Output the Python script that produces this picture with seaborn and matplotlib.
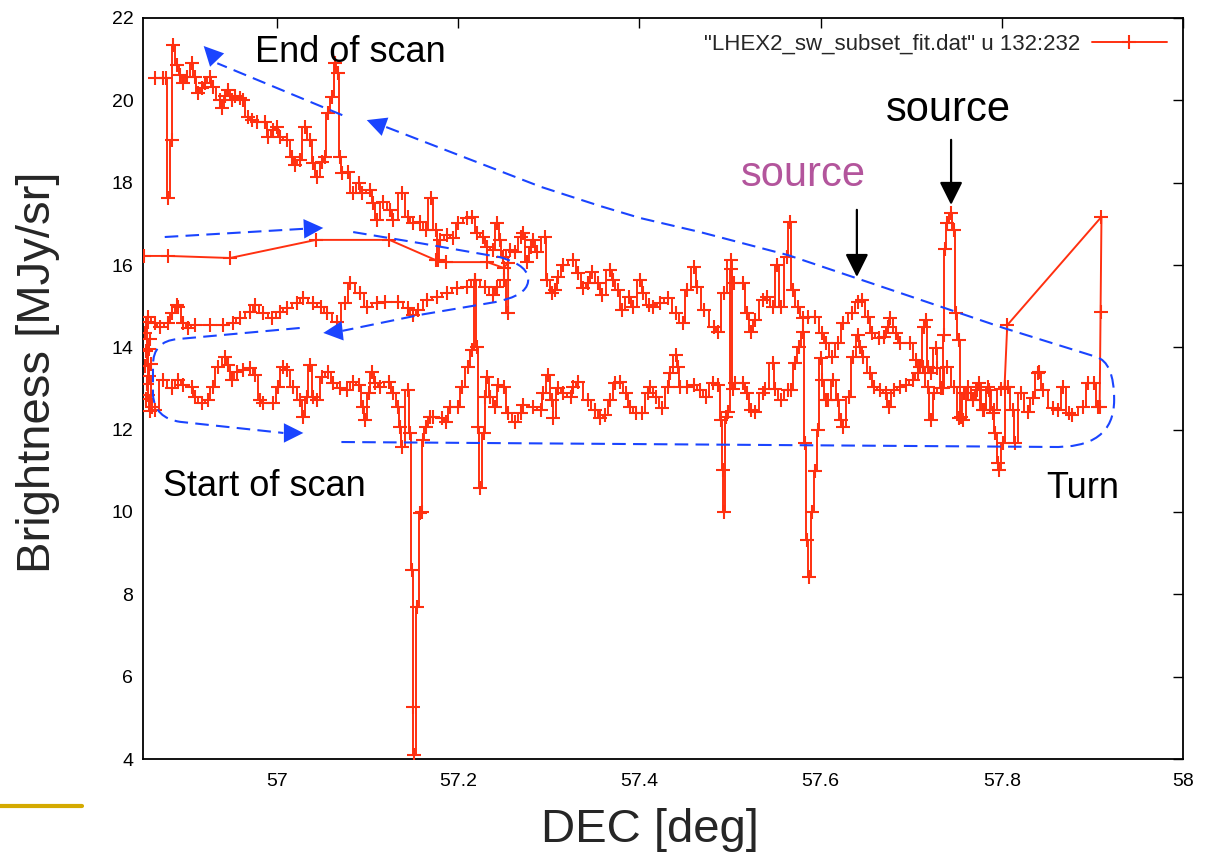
import numpy as np
import pandas as pd
import matplotlib
matplotlib.use("Agg")
import matplotlib.pyplot as plt
import seaborn as sns
from matplotlib import font_manager
from matplotlib.path import Path
from matplotlib.patches import PathPatch, FancyArrowPatch
from matplotlib.lines import Line2D

# ---------------------------------------------------------------------------
# Scan data: (DEC [deg], brightness [MJy/sr]) in the order the scan ran
# ---------------------------------------------------------------------------
# outbound slew along the top
LEG_A = [(56.853, 16.22), (56.880, 16.22), (56.948, 16.17), (57.043, 16.61),
         (57.124, 16.61), (57.175, 16.12), (57.186, 16.07), (57.232, 16.07),
         (57.250, 15.93), (57.255, 16.05)]

# first return leg (middle band), right to left
LEG_B = [(57.255, 14.83), (57.250, 15.64), (57.243, 15.47), (57.238, 15.27),
         (57.230, 15.47), (57.219, 15.64), (57.210, 15.47), (57.199, 15.44),
         (57.188, 15.32), (57.177, 15.22), (57.166, 15.15), (57.156, 14.90),
         (57.150, 14.79), (57.144, 14.96), (57.133, 15.10), (57.119, 15.10),
         (57.110, 15.08), (57.099, 14.98), (57.092, 15.32), (57.081, 15.56),
         (57.075, 15.08), (57.066, 14.62), (57.055, 14.83), (57.048, 14.98),
         (57.040, 15.08), (57.029, 15.20), (57.022, 15.08), (57.011, 14.96),
         (57.003, 14.86), (56.994, 14.71), (56.985, 14.83), (56.976, 15.03),
         (56.970, 14.86), (56.959, 14.71), (56.951, 14.59), (56.940, 14.54),
         (56.926, 14.54), (56.909, 14.54), (56.902, 14.47), (56.896, 14.59),
         (56.891, 14.98), (56.890, 15.03), (56.884, 14.83), (56.880, 14.59),
         (56.871, 14.50), (56.865, 14.59), (56.857, 14.74)]

# turnaround at the low-DEC end
LEFT_TURN = [(56.854, 14.35), (56.858, 14.62), (56.855, 13.90), (56.860, 14.20),
             (56.854, 13.55), (56.859, 13.95), (56.856, 13.10), (56.861, 13.60),
             (56.855, 12.75), (56.859, 13.30), (56.862, 12.55), (56.857, 12.85),
             (56.860, 12.45)]

# main outbound leg (lower band), left to right
LEG_C = [(56.865, 12.48), (56.874, 13.21), (56.884, 13.01), (56.891, 13.21),
         (56.896, 13.09), (56.906, 13.04), (56.909, 12.79), (56.917, 12.65),
         (56.924, 12.72), (56.929, 13.04), (56.935, 13.52), (56.943, 13.77),
         (56.946, 13.57), (56.950, 13.21), (56.956, 13.40), (56.962, 13.45),
         (56.970, 13.50), (56.976, 13.33), (56.981, 12.72), (56.985, 12.65),
         (56.996, 12.65), (57.001, 13.04), (57.006, 13.52), (57.011, 13.45),
         (57.018, 13.04), (57.025, 12.72), (57.029, 12.31), (57.033, 12.79),
         (57.036, 13.57), (57.040, 12.79), (57.044, 12.72), (57.050, 13.28),
         (57.056, 13.40), (57.062, 13.13), (57.070, 13.01), (57.077, 12.96),
         (57.084, 13.16), (57.090, 13.09), (57.095, 12.55), (57.097, 12.23),
         (57.101, 12.90), (57.105, 13.40), (57.108, 13.13), (57.114, 13.04),
         (57.123, 13.16), (57.128, 12.90), (57.134, 12.55), (57.136, 12.07),
         (57.138, 11.58), (57.145, 12.96), (57.147, 11.92), (57.149, 8.59),
         (57.150, 5.27), (57.151, 4.10), (57.155, 7.69), (57.158, 9.98),
         (57.160, 10.00), (57.161, 11.75), (57.164, 12.07), (57.169, 12.31),
         (57.172, 12.31), (57.182, 12.28), (57.186, 12.19), (57.191, 12.55),
         (57.200, 12.55), (57.204, 13.04), (57.211, 13.52), (57.215, 13.94),
         (57.219, 15.64), (57.221, 14.01), (57.222, 12.07), (57.224, 10.58),
         (57.228, 11.92), (57.230, 12.79), (57.232, 13.28), (57.235, 12.79),
         (57.241, 12.55), (57.244, 13.09), (57.250, 13.04), (57.255, 12.41),
         (57.263, 12.19), (57.269, 12.41), (57.272, 12.60), (57.283, 12.55),
         (57.291, 12.48), (57.294, 12.90), (57.299, 13.33), (57.304, 12.72),
         (57.305, 12.28), (57.310, 13.01), (57.316, 12.90), (57.324, 12.79),
         (57.327, 13.04), (57.332, 13.16), (57.343, 12.72), (57.351, 12.48),
         (57.357, 12.28), (57.362, 12.36), (57.368, 12.72), (57.373, 13.13),
         (57.379, 13.16), (57.385, 12.90), (57.390, 12.55), (57.396, 12.41),
         (57.403, 12.41), (57.409, 12.90), (57.412, 13.04), (57.418, 12.79),
         (57.425, 12.53), (57.431, 13.04), (57.434, 13.38), (57.440, 13.81),
         (57.443, 13.52), (57.445, 13.04), (57.453, 13.04), (57.460, 13.09),
         (57.467, 12.96), (57.473, 12.79), (57.481, 13.13), (57.487, 13.09),
         (57.490, 12.23), (57.492, 11.02), (57.493, 10.00), (57.495, 12.31),
         (57.498, 12.43), (57.501, 15.90), (57.503, 13.00), (57.506, 13.13),
         (57.514, 13.13), (57.519, 12.90), (57.523, 12.48), (57.528, 12.43),
         (57.536, 12.90), (57.539, 13.00), (57.547, 13.62), (57.550, 13.00),
         (57.556, 12.72), (57.564, 12.96), (57.567, 12.96), (57.572, 13.62),
         (57.576, 14.00), (57.580, 14.37), (57.583, 11.67), (57.585, 9.32),
         (57.587, 8.42), (57.591, 10.00), (57.594, 11.00), (57.597, 12.00),
         (57.600, 13.74), (57.602, 13.20), (57.606, 12.72), (57.608, 12.72),
         (57.614, 13.21), (57.619, 12.72), (57.622, 12.23), (57.625, 12.07),
         (57.631, 12.79), (57.636, 13.77), (57.641, 14.30), (57.644, 14.00),
         (57.647, 13.77), (57.655, 13.38), (57.659, 13.04), (57.666, 12.96),
         (57.672, 12.90), (57.675, 12.55), (57.681, 12.96), (57.688, 13.04),
         (57.694, 13.09), (57.702, 13.21), (57.707, 13.38), (57.713, 13.52),
         (57.718, 13.04), (57.722, 12.23), (57.725, 12.90), (57.733, 13.01),
         (57.740, 13.52), (57.747, 13.04), (57.753, 12.28), (57.758, 12.90),
         (57.763, 13.04), (57.768, 12.72), (57.773, 12.96), (57.779, 12.48),
         (57.785, 13.04), (57.790, 12.41), (57.793, 11.92), (57.796, 11.19),
         (57.797, 11.02), (57.801, 11.67), (57.807, 13.04), (57.812, 12.48),
         (57.815, 11.67), (57.821, 12.90), (57.829, 12.43), (57.834, 12.77),
         (57.840, 13.38), (57.841, 13.40), (57.846, 12.96), (57.856, 12.53),
         (57.862, 12.48), (57.868, 13.04), (57.874, 12.41), (57.878, 12.36),
         (57.890, 12.55), (57.895, 13.13), (57.902, 13.13), (57.906, 12.55),
         (57.908, 12.55)]

# turnaround at the high-DEC end
RIGHT_TURN = [(57.909, 14.86), (57.910, 17.17), (57.806, 14.54), (57.803, 13.04)]

# final return leg (upper band), right to left
LEG_D = [(57.799, 13.00), (57.791, 12.48), (57.786, 12.96), (57.780, 12.48),
         (57.775, 13.13), (57.768, 12.72), (57.763, 12.90), (57.757, 12.23),
         (57.755, 12.30), (57.753, 14.18), (57.749, 14.83), (57.747, 16.85),
         (57.744, 17.26), (57.740, 17.02), (57.737, 16.40), (57.736, 14.30),
         (57.735, 13.01), (57.729, 13.50), (57.727, 13.98), (57.722, 13.38),
         (57.719, 13.52), (57.716, 14.66), (57.714, 14.50), (57.710, 13.52),
         (57.705, 13.69), (57.699, 14.10), (57.688, 14.10), (57.683, 14.35),
         (57.677, 14.71), (57.674, 14.50), (57.670, 14.25), (57.664, 14.23),
         (57.657, 14.35), (57.652, 14.74), (57.646, 15.15), (57.641, 15.10),
         (57.635, 14.83), (57.625, 14.59), (57.619, 14.10), (57.613, 13.77),
         (57.606, 14.10), (57.602, 14.35), (57.594, 14.74), (57.586, 14.74),
         (57.580, 14.71), (57.575, 14.98), (57.569, 15.39), (57.566, 17.04),
         (57.563, 16.20), (57.556, 14.98), (57.552, 16.00), (57.547, 14.98),
         (57.541, 15.22), (57.536, 15.15), (57.528, 14.66), (57.523, 14.37),
         (57.519, 14.83), (57.514, 15.56), (57.504, 15.56), (57.501, 16.12),
         (57.493, 15.32), (57.487, 14.37), (57.482, 14.50), (57.471, 14.90),
         (57.464, 15.47), (57.460, 15.95), (57.453, 15.39), (57.448, 14.59),
         (57.440, 14.83), (57.432, 15.20), (57.423, 15.08), (57.415, 14.98),
         (57.410, 15.03), (57.404, 15.32), (57.401, 15.64), (57.393, 14.98),
         (57.388, 15.22), (57.381, 14.90), (57.376, 15.39), (57.371, 15.64),
         (57.368, 15.88), (57.359, 15.27), (57.354, 15.56), (57.348, 15.83),
         (57.343, 15.56), (57.338, 15.44), (57.332, 15.80), (57.327, 16.12),
         (57.316, 16.00), (57.310, 15.71), (57.307, 15.39), (57.304, 15.32),
         (57.298, 15.64), (57.296, 16.68), (57.287, 16.32), (57.283, 16.60),
         (57.280, 16.44), (57.276, 16.07), (57.272, 16.78), (57.269, 16.68),
         (57.263, 16.32), (57.257, 16.37), (57.249, 16.20), (57.246, 16.60),
         (57.243, 17.02), (57.238, 16.37), (57.232, 16.44), (57.227, 16.68),
         (57.221, 16.78), (57.215, 17.17), (57.210, 17.14), (57.200, 17.02),
         (57.194, 16.66), (57.188, 16.73), (57.180, 16.60), (57.178, 16.12),
         (57.175, 16.85), (57.170, 17.63), (57.164, 16.85), (57.158, 17.04),
         (57.150, 17.02), (57.144, 17.17), (57.138, 17.75), (57.128, 17.10),
         (57.125, 17.33), (57.117, 17.53), (57.110, 17.10), (57.106, 17.50),
         (57.103, 17.82), (57.094, 17.75), (57.090, 18.00), (57.084, 17.75),
         (57.078, 18.26), (57.072, 18.23), (57.070, 18.62), (57.067, 20.66),
         (57.064, 20.90), (57.061, 20.08), (57.056, 19.69), (57.053, 18.62),
         (57.050, 18.50), (57.044, 18.14), (57.040, 18.48), (57.036, 19.04),
         (57.031, 19.35), (57.025, 18.55), (57.020, 18.43), (57.017, 18.62),
         (57.011, 19.04), (57.003, 19.10), (57.000, 19.35), (56.996, 19.28),
         (56.990, 19.10), (56.987, 19.47), (56.978, 19.47), (56.972, 19.52),
         (56.968, 19.60), (56.962, 20.00), (56.959, 20.05), (56.954, 20.10),
         (56.950, 20.00), (56.946, 20.25), (56.943, 20.10), (56.939, 19.81),
         (56.937, 20.00), (56.929, 20.32), (56.926, 20.57), (56.920, 20.42),
         (56.917, 20.30), (56.913, 20.18), (56.909, 20.57), (56.906, 20.90),
         (56.901, 20.57), (56.896, 20.42), (56.893, 20.62), (56.890, 20.86),
         (56.885, 21.34), (56.884, 19.04), (56.880, 17.63), (56.877, 20.54),
         (56.874, 20.54), (56.865, 20.54)]

SERIES_LABEL = '"LHEX2_sw_subset_fit.dat" u 132:232'
X_TICKS = [57.0, 57.2, 57.4, 57.6, 57.8, 58.0]
X_TICK_LABELS = ["57", "57.2", "57.4", "57.6", "57.8", "58"]
Y_TICKS = [4, 6, 8, 10, 12, 14, 16, 18, 20, 22]

# ---------------------------------------------------------------------------
# Styling
# ---------------------------------------------------------------------------
sns.set_style("white")
_names = {f.name for f in font_manager.fontManager.ttflist}
_main = "Liberation Sans" if "Liberation Sans" in _names else "DejaVu Sans"
plt.rcParams["font.family"] = [_main, "DejaVu Sans"]

RED = "#ff3010"
BLUE = "#1a44ff"
MAGENTA = "#b3559c"
GOLD = "#d4aa00"

W, H = 1205, 859
fig = plt.figure(figsize=(W / 100, H / 100), dpi=100)
fig.patch.set_facecolor("white")
ax = fig.add_axes([143 / W, 1 - 759 / H, (1183 - 143) / W, (759 - 18) / H])

# ---------------------------------------------------------------------------
# Scan trace: dense scan legs drawn as steps, fast slews as straight lines,
# with a + at every sample
# ---------------------------------------------------------------------------
pieces = [
    (LEG_A + LEG_B[:1], "default"),
    (LEG_B + LEFT_TURN + LEG_C, "steps-mid"),
    (LEG_C[-1:] + RIGHT_TURN, "default"),
    (RIGHT_TURN[-1:] + LEG_D, "steps-mid"),
]
for pts, style in pieces:
    piece = pd.DataFrame(pts, columns=["dec", "brightness"])
    sns.lineplot(data=piece, x="dec", y="brightness", sort=False,
                 estimator=None, color=RED, lw=1.4, drawstyle=style,
                 ax=ax, zorder=3)

samples = pd.DataFrame(LEG_A + LEG_B + LEFT_TURN + LEG_C + RIGHT_TURN + LEG_D,
                       columns=["dec", "brightness"])
sns.scatterplot(data=samples, x="dec", y="brightness", marker="+", s=90,
                linewidth=1.5, color=RED, ax=ax, zorder=3)

ax.set_xlim(56.852, 58.0)
ax.set_ylim(4, 22)
ax.set_xticks(X_TICKS)
ax.set_xticklabels(X_TICK_LABELS)
ax.set_yticks(Y_TICKS)
ax.tick_params(direction="in", length=7, width=1.0, top=True, right=True,
               labelsize=14, colors="black")
ax.tick_params(axis="x", pad=10)
ax.tick_params(axis="y", pad=7)
for sp in ax.spines.values():
    sp.set_visible(True)
    sp.set_color("black")
    sp.set_linewidth(1.3)

ax.set_xlabel("")
ax.set_ylabel("")
fig.text(650 / W, 1 - 830 / H, "DEC [deg]", fontsize=34, ha="center",
         va="center")
fig.text(38 / W, 1 - 372 / H, "Brightness [MJy/sr]", fontsize=34,
         ha="center", va="center", rotation=90)

# legend key: line with a single + in the middle, placed after the text
key = Line2D([], [], color=RED, lw=1.4, marker="+", markersize=9.5,
             markeredgewidth=1.5)
ax.legend([key], [SERIES_LABEL], loc="upper right",
          bbox_to_anchor=(0.9975, 0.997), frameon=False, markerfirst=False,
          fontsize=16, handlelength=3.4, handletextpad=0.5,
          borderaxespad=0.2)

# ---------------------------------------------------------------------------
# Scan-direction guides (blue dashed) and source markers
# ---------------------------------------------------------------------------
M, L, C3 = Path.MOVETO, Path.LINETO, Path.CURVE3
DASH = (0, (6.5, 3.5))


def guide(points, codes):
    patch = PathPatch(Path(points, codes), fill=False, edgecolor=BLUE,
                      lw=1.5, linestyle=DASH, transform=ax.transData,
                      clip_on=False, zorder=4)
    ax.add_patch(patch)


def head(base, tip, color=BLUE):
    arr = FancyArrowPatch(base, tip, arrowstyle="-|>,head_length=14,head_width=7",
                          mutation_scale=1, color=color, lw=0, shrinkA=0,
                          shrinkB=0, transform=ax.transData, zorder=5,
                          clip_on=False)
    ax.add_patch(arr)


# end-of-scan pointer, top left
guide([(57.072, 19.64), (56.934, 20.90)], [M, L])
head((56.935, 20.95), (56.919, 21.32))

# long return guide: bottom line, turn loop, up to the top left
guide([(57.071, 11.70), (57.854, 11.58), (57.924, 11.53), (57.924, 12.72),
       (57.924, 13.64), (57.904, 13.77), (57.802, 14.47), (57.688, 15.32),
       (57.564, 16.24), (57.467, 16.80), (57.401, 17.14), (57.357, 17.43),
       (57.291, 17.90), (57.117, 19.38)],
      [M, L, C3, C3, C3, C3, L, L, L, L, L, L, L, L])
head((57.119, 19.36), (57.099, 19.52))

# first outbound pointer
guide([(56.876, 16.68), (57.030, 16.88)], [M, L])
head((57.030, 16.88), (57.051, 16.90))

# loop at the right end of the short scans
guide([(57.084, 16.80), (57.158, 16.53), (57.246, 16.19), (57.280, 15.98),
       (57.277, 15.59), (57.275, 15.25), (57.241, 15.10), (57.158, 14.79),
       (57.072, 14.40)],
      [M, L, L, C3, C3, C3, C3, L, L])
head((57.072, 14.40), (57.051, 14.35))

# loop at the left end, into the start of the main leg
guide([(57.025, 14.47), (56.890, 14.20), (56.863, 14.15), (56.863, 13.57),
       (56.863, 12.84), (56.865, 12.28), (56.893, 12.19), (57.007, 11.92)],
      [M, L, C3, C3, L, C3, C3, L])
head((57.007, 11.92), (57.029, 11.92))

# black source pointers
for x0, y0, y1 in [(57.744, 19.04, 17.46), (57.640, 17.34, 15.71)]:
    ax.add_patch(FancyArrowPatch((x0, y0), (x0, y1),
                                 arrowstyle="-|>,head_length=14,head_width=7",
                                 mutation_scale=1, color="black", lw=1.6,
                                 shrinkA=0, shrinkB=0, zorder=5))

# ---------------------------------------------------------------------------
# Text annotations
# ---------------------------------------------------------------------------
ax.text(56.976, 21.15, "End of scan", fontsize=26, ha="left", va="center",
        color="black", zorder=6)
ax.text(57.741, 19.77, "source", fontsize=30, ha="center", va="center",
        color="black", zorder=6)
ax.text(57.581, 18.19, "source", fontsize=30, ha="center", va="center",
        color=MAGENTA, zorder=6)
ax.text(56.874, 10.61, "Start of scan", fontsize=26, ha="left", va="center",
        color="black", zorder=6)
ax.text(57.849, 10.56, "Turn", fontsize=26, ha="left", va="center",
        color="black", zorder=6)

# slide accent line in the lower left corner
fig.add_artist(Line2D([0, 82 / W], [1 - 806 / H, 1 - 806 / H],
                      transform=fig.transFigure, color=GOLD, lw=3))

fig.savefig("out.png", dpi=100, facecolor="white")
